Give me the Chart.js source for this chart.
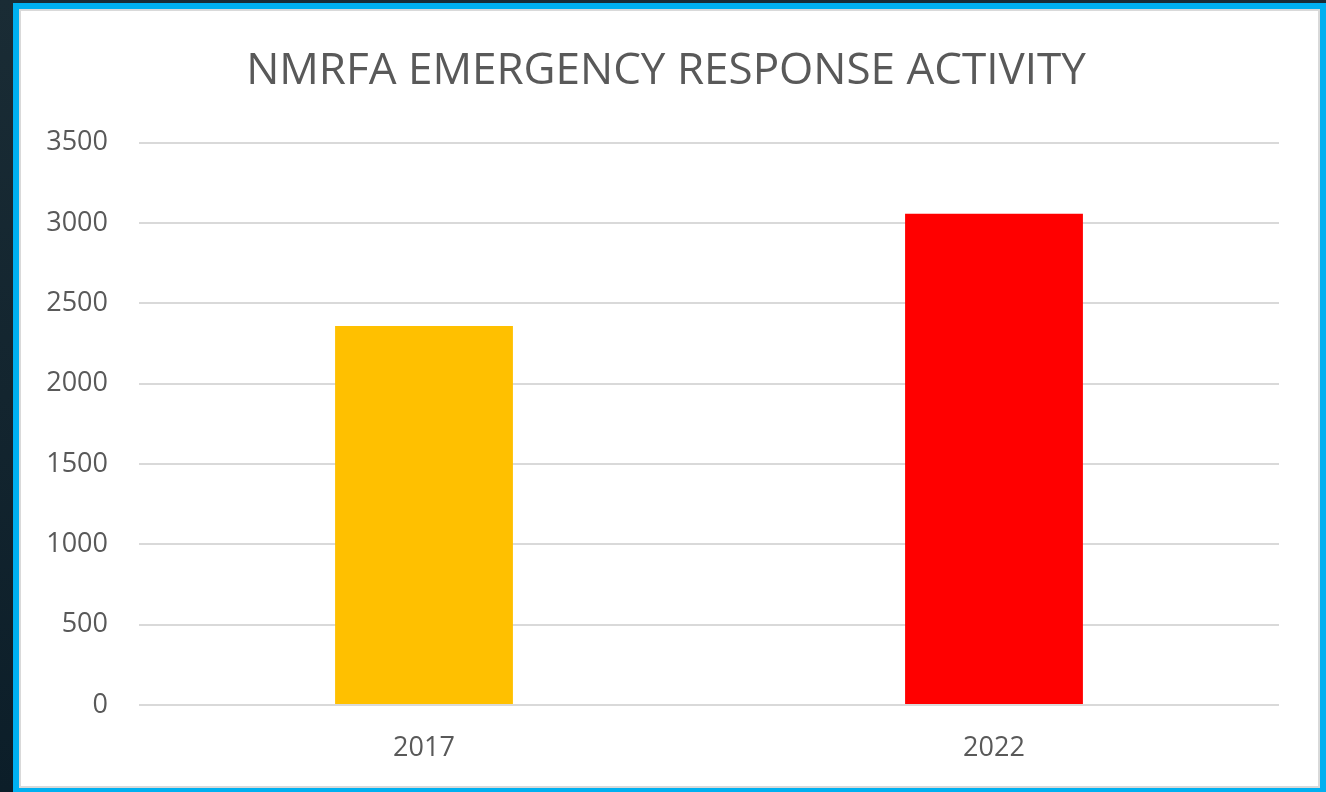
<!DOCTYPE html>
<html>
<head>
<meta charset="utf-8">
<script src="https://cdn.jsdelivr.net/npm/chart.js@4/dist/chart.umd.min.js"></script>
<style>
  html, body { margin: 0; padding: 0; }
  body { width: 1326px; height: 792px; background: linear-gradient(180deg, #1a2c35 0%, #0c1e29 100%); position: relative; overflow: hidden; }
  #card { position: absolute; left: 13px; top: 3px; width: 1301px; height: 779px;
          border-style: solid; border-color: #00b0f0; border-width: 6px 6px 4px 6px; }
  #inner { position: absolute; left: 0; top: 0; width: 1297px; height: 775px; border: 2px solid #d9d9d9; background: #fff; }
  #wrap { position: absolute; left: 0; top: 0; width: 1296px; height: 775px; }
</style>
</head>
<body>
<div id="card"><div id="inner"><div id="wrap"><canvas id="c" width="1296" height="775"></canvas></div></div></div>
<script>
const titleText = 'NMRFA EMERGENCY RESPONSE ACTIVITY';
const categories = ['2017', '2022'];
const values = [2360, 3058];
const barColors = ['#ffc000', '#ff0000'];
const yTicks = [0, 500, 1000, 1500, 2000, 2500, 3000, 3500];

new Chart(document.getElementById('c'), {
  type: 'bar',
  data: {
    labels: categories,
    datasets: [{
      data: values,
      backgroundColor: barColors,
      borderWidth: 0,
      barPercentage: 0.312,
      categoryPercentage: 1.0,
      yAxisID: 'y'
    }]
  },
  options: {
    responsive: false,
    animation: false,
    devicePixelRatio: 1,
    layout: { padding: { left: 10, right: 16, top: 0, bottom: 0 } },
    plugins: {
      legend: { display: false },
      tooltip: { enabled: false },
      title: {
        display: true,
        text: titleText,
        color: '#595959',
        font: { family: 'Open Sans', size: 44, weight: 'normal', lineHeight: 1.2 },
        padding: { top: 34, bottom: 45 }
      }
    },
    scales: {
      x: {
        grid: { display: false, drawTicks: false },
        border: { display: false },
        ticks: { color: '#595959', font: { family: 'Open Sans', size: 27 }, padding: 27 },
        afterFit: (s) => { s.height = 81; }
      },
      y: {
        position: 'left',
        min: 0,
        max: yTicks[yTicks.length - 1],
        afterBuildTicks: (s) => { s.ticks = yTicks.map(v => ({ value: v })); },
        grid: { color: '#d9d9d9', lineWidth: 2, drawTicks: false },
        border: { display: false },
        ticks: { color: '#595959', font: { family: 'Open Sans', size: 27 }, padding: 31,
                 callback: (v) => String(v) },
        afterFit: (s) => { s.width = 108; }
      },
      yRight: {
        position: 'right',
        min: 0,
        max: yTicks[yTicks.length - 1],
        grid: { display: false, drawTicks: false },
        border: { display: false },
        ticks: { display: false },
        afterFit: (s) => { s.width = 22; }
      }
    }
  }
});
</script>
</body>
</html>
